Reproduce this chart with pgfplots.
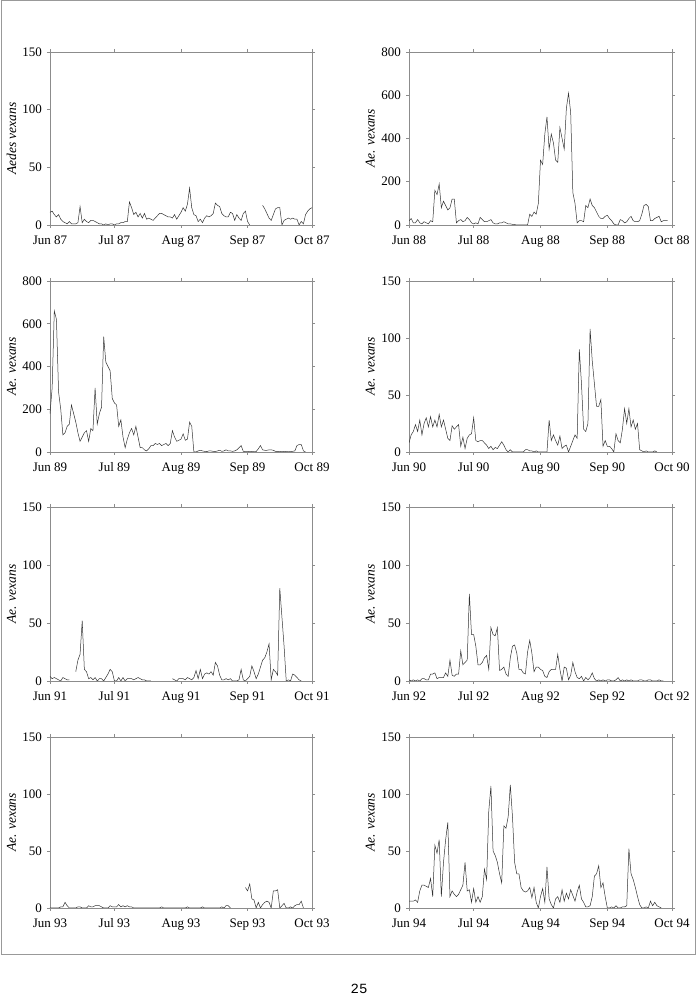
\documentclass[border=0pt]{standalone}
\usepackage{fontspec}
\setmainfont{Liberation Serif}
\newfontfamily\monofont{Liberation Mono}
\usepackage{pgfplots}
\pgfplotsset{compat=1.18}
\pgfplotsset{
  panel/.style={
    scale only axis,
    xmin=0, xmax=122, ymin=0,
    xtick={0,30,61,92,122},
    tick align=outside,
    major tick length=3pt,
    axis line style={draw=black!45, line width=0.8pt},
    every tick/.style={draw=black!45, line width=0.6pt},
    tick label style={font=\fontsize{13}{15}\selectfont, text=black},
    xticklabel style={yshift=-4pt},
    yticklabel style={xshift=-1.5pt},
    /pgf/number format/assume math mode=true,
    ylabel style={at={(axis description cs:-0.147,0.5)}, anchor=center, font=\fontsize{13.5}{15}\selectfont\itshape},
    unbounded coords=jump,
  },
  dat/.style={black!80, line width=0.5pt, mark=none},
}
\begin{document}
\begin{tikzpicture}
\useasboundingbox (0pt,0pt) rectangle (696pt,995pt);
\draw[black!40, line width=1pt] (1pt,994pt) rectangle (695pt,40pt);
\node[anchor=base, font=\monofont\fontsize{14}{16}\selectfont] at (359pt,1.5pt) {25};

% ---------- 1987 ----------
\begin{axis}[panel, at={(50pt,770pt)}, anchor=south west, width=262pt, height=173pt,
  ymax=150, ytick={0,50,100,150}, ylabel={Aedes vexans},
  xticklabels={Jun 87,Jul 87,Aug 87,Sep 87,Oct 87}]
\addplot[dat] coordinates {
(0,11) (1,12) (2,9) (3,7) (4,9) (5,5) (6,3) (7,2) (8,1) (9,3) (10,1) (11,1) (12,1) (13,2) (14,16) (15,2) (16,5) (17,3) (18,2) (19,4) (20,4) (21,3) (22,2) (23,1) (24,1) (25,0) (26,1) (27,0) (28,1) (29,1) (30,0) (31,1) (32,1) (33,2) (34,2) (35,3) (36,3) (37,20) (38,15) (39,9) (40,11) (41,7) (42,10) (43,6) (44,10) (45,5) (46,6) (47,5) (48,4) (49,6) (50,8) (51,10) (52,10) (53,9) (54,8) (55,7) (56,7) (57,6) (58,9) (59,5) (60,8) (61,11) (62,15) (63,12) (64,18) (65,32) (66,15) (67,9) (68,8) (69,3) (70,5) (71,2) (72,6) (73,8) (74,7) (75,8) (76,10) (77,19) (78,17) (79,16) (80,10) (81,8) (82,7) (83,7) (84,11) (85,10) (86,4) (87,9) (88,6) (89,4) (90,10) (91,12) (92,3) (93,0) (95,nan) (99,17) (100,14) (101,10) (102,6) (103,4) (104,9) (105,14) (106,15) (107,15) (108,0) (109,4) (110,5) (111,6) (112,5) (113,6) (114,5) (115,5) (116,0) (117,3) (118,1) (119,9) (120,12) (121,14) (122,15)
};
\end{axis}

% ---------- 1988 ----------
\begin{axis}[panel, at={(409pt,770pt)}, anchor=south west, width=263pt, height=173pt,
  ymax=800, ytick={0,200,400,600,800}, ylabel={Ae. vexans},
  xticklabels={Jun 88,Jul 88,Aug 88,Sep 88,Oct 88}]
\addplot[dat] coordinates {
(0,20) (1,30) (2,10) (3,10) (4,25) (5,10) (6,5) (7,15) (8,10) (9,5) (10,20) (11,15) (12,160) (13,140) (14,190) (15,80) (16,110) (17,90) (18,70) (19,80) (20,120) (21,120) (22,10) (23,20) (24,25) (25,15) (26,20) (27,35) (28,25) (29,10) (30,5) (31,10) (32,5) (33,35) (34,25) (35,15) (36,15) (37,20) (38,25) (39,10) (40,5) (41,5) (42,10) (43,10) (44,15) (45,10) (46,5) (47,5) (48,3) (49,2) (50,0) (51,0) (52,0) (53,0) (54,0) (55,0) (56,50) (57,40) (58,60) (59,50) (60,100) (61,300) (62,280) (63,420) (64,500) (65,350) (66,420) (67,380) (68,300) (69,290) (70,450) (71,400) (72,350) (73,540) (74,610) (75,520) (76,150) (77,100) (78,10) (79,20) (80,20) (81,15) (82,90) (83,80) (84,120) (85,90) (86,80) (87,60) (88,40) (89,30) (90,30) (91,40) (92,45) (93,30) (94,20) (95,5) (96,0) (97,0) (98,25) (99,20) (100,10) (101,15) (102,30) (103,40) (104,20) (105,15) (106,15) (107,20) (108,50) (109,90) (110,95) (111,85) (112,20) (113,20) (114,30) (115,35) (116,40) (117,15) (118,20) (119,20) (120,20)
};
\end{axis}

% ---------- 1989 ----------
\begin{axis}[panel, at={(50pt,543pt)}, anchor=south west, width=262pt, height=171pt,
  ymax=800, ytick={0,200,400,600,800}, ylabel={Ae. vexans},
  xticklabels={Jun 89,Jul 89,Aug 89,Sep 89,Oct 89}]
\addplot[dat] coordinates {
(0,180) (1,300) (2,660) (3,620) (4,280) (5,200) (6,80) (7,90) (8,120) (9,130) (10,220) (11,180) (12,140) (13,90) (14,50) (15,70) (16,90) (17,100) (18,50) (19,110) (20,100) (21,300) (22,130) (23,180) (24,210) (25,540) (26,420) (27,400) (28,380) (29,250) (30,230) (31,220) (32,120) (33,150) (34,70) (35,20) (36,60) (37,90) (38,110) (39,80) (40,120) (41,70) (42,20) (43,20) (44,10) (45,5) (46,15) (47,30) (48,30) (49,40) (50,35) (51,40) (52,30) (53,35) (54,40) (55,30) (56,40) (57,100) (58,70) (59,50) (60,55) (61,60) (62,85) (63,55) (64,60) (65,140) (66,120) (67,0) (68,0) (69,5) (70,8) (71,5) (72,3) (73,2) (74,5) (75,5) (76,3) (77,2) (78,5) (79,8) (80,3) (81,5) (82,10) (83,5) (84,5) (85,3) (86,5) (87,10) (88,20) (89,30) (90,3) (91,2) (92,2) (93,3) (94,2) (95,1) (96,2) (97,15) (98,30) (99,10) (100,8) (101,8) (102,10) (103,10) (104,8) (105,3) (106,2) (107,3) (108,1) (109,3) (110,2) (111,1) (112,2) (113,3) (114,5) (115,30) (116,35) (117,35) (118,5) (119,0)
};
\end{axis}

% ---------- 1990 ----------
\begin{axis}[panel, at={(409pt,543pt)}, anchor=south west, width=263pt, height=171pt,
  ymax=150, ytick={0,50,100,150}, ylabel={Ae. vexans},
  xticklabels={Jun 90,Jul 90,Aug 90,Sep 90,Oct 90}]
\addplot[dat] coordinates {
(0,8) (1,15) (2,18) (3,24) (4,18) (5,28) (6,15) (7,25) (8,30) (9,22) (10,31) (11,22) (12,28) (13,22) (14,33) (15,22) (16,28) (17,20) (18,12) (19,10) (20,23) (21,20) (22,22) (23,24) (24,5) (25,13) (26,3) (27,12) (28,15) (29,16) (30,30) (31,10) (32,9) (33,10) (34,10) (35,8) (36,6) (37,3) (38,5) (39,2) (40,4) (41,3) (42,6) (43,9) (44,6) (45,2) (46,0) (47,2) (48,0) (49,0) (50,0) (51,0) (52,0) (53,0) (54,2) (55,2) (56,1) (57,1) (58,0) (59,1) (60,0) (61,0) (62,0) (63,0) (64,0) (65,28) (66,10) (67,15) (68,10) (69,6) (70,14) (71,3) (72,5) (73,6) (74,0) (75,5) (76,10) (77,15) (78,12) (79,90) (80,60) (81,20) (82,18) (83,25) (84,108) (85,80) (86,60) (87,40) (88,40) (89,46) (90,5) (91,10) (92,5) (93,5) (94,3) (95,0) (96,16) (97,10) (98,8) (99,20) (100,38) (101,25) (102,38) (103,22) (104,28) (105,20) (106,25) (107,2) (108,1) (109,0) (110,1) (111,0) (112,0) (113,0) (114,1) (115,0)
};
\end{axis}

% ---------- 1991 ----------
\begin{axis}[panel, at={(50pt,314pt)}, anchor=south west, width=262pt, height=174pt,
  ymax=150, ytick={0,50,100,150}, ylabel={Ae. vexans},
  xticklabels={Jun 91,Jul 91,Aug 91,Sep 91,Oct 91}]
\addplot[dat] coordinates {
(0,4) (1,2) (2,3) (3,2) (4,1) (5,0) (6,3) (7,2) (8,1) (9,1) (10,nan) (12,8) (13,18) (14,23) (15,52) (16,10) (17,8) (18,2) (19,3) (20,1) (21,3) (22,0) (23,2) (24,2) (25,0) (26,3) (27,6) (28,10) (29,8) (30,0) (31,0) (32,3) (33,0) (34,3) (35,0) (36,2) (37,2) (38,2) (39,1) (40,2) (41,3) (42,2) (43,1) (44,1) (45,0) (46,0) (47,0) (48,nan) (57,2) (58,1) (59,0) (60,2) (61,2) (62,2) (63,1) (64,3) (65,2) (66,1) (67,3) (68,9) (69,2) (70,10) (71,2) (72,6) (73,7) (74,6) (75,8) (76,5) (77,16) (78,13) (79,5) (80,1) (81,1) (82,2) (83,1) (84,2) (85,0) (86,0) (87,0) (88,1) (89,10) (90,1) (91,0) (92,2) (93,4) (94,13) (95,8) (96,2) (97,6) (98,12) (99,18) (100,20) (101,25) (102,32) (103,1) (104,10) (105,8) (106,5) (107,80) (108,55) (109,30) (110,0) (111,1) (112,0) (113,6) (114,5) (115,3) (116,1) (117,0)
};
\end{axis}

% ---------- 1992 ----------
\begin{axis}[panel, at={(409pt,314pt)}, anchor=south west, width=263pt, height=174pt,
  ymax=150, ytick={0,50,100,150}, ylabel={Ae. vexans},
  xticklabels={Jun 92,Jul 92,Aug 92,Sep 92,Oct 92}]
\addplot[dat] coordinates {
(0,1) (1,0) (2,1) (3,0) (4,1) (5,0) (6,2) (7,2) (8,1) (9,1) (10,6) (11,6) (12,7) (13,2) (14,3) (15,3) (16,3) (17,7) (18,4) (19,18) (20,5) (21,4) (22,6) (23,6) (24,26) (25,14) (26,16) (27,18) (28,75) (29,40) (30,40) (31,30) (32,14) (33,14) (34,16) (35,20) (36,22) (37,10) (38,46) (39,40) (40,39) (41,46) (42,9) (43,10) (44,12) (45,6) (46,4) (47,20) (48,30) (49,31) (50,24) (51,10) (52,10) (53,7) (54,6) (55,25) (56,35) (57,24) (58,8) (59,12) (60,12) (61,10) (62,9) (63,4) (64,3) (65,8) (66,10) (67,10) (68,10) (69,23) (70,10) (71,0) (72,12) (73,11) (74,1) (75,5) (76,16) (77,8) (78,3) (79,2) (80,4) (81,0) (82,3) (83,1) (84,3) (85,7) (86,2) (87,0) (88,1) (89,0) (90,1) (91,0) (92,1) (93,1) (94,0) (95,0) (96,1) (97,3) (98,0) (99,1) (100,0) (101,1) (102,0) (103,1) (104,0) (105,0) (106,0) (107,1) (108,1) (109,0) (110,0) (111,1) (112,1) (113,0) (114,0) (115,0) (116,1) (117,0) (118,0)
};
\end{axis}

% ---------- 1993 ----------
\begin{axis}[panel, at={(50pt,87pt)}, anchor=south west, width=262pt, height=171pt,
  ymax=150, ytick={0,50,100,150}, ylabel={Ae. vexans},
  xticklabels={Jun 93,Jul 93,Aug 93,Sep 93,Oct 93}]
\addplot[dat] coordinates {
(0,0) (4,0) (5,1) (6,1) (7,5) (8,2) (9,0) (12,0) (13,1) (14,1) (15,0) (17,0) (18,2) (19,1) (20,1) (21,2) (22,2) (23,2) (24,1) (25,0) (27,0) (28,2) (29,1) (30,1) (31,1) (32,3) (33,1) (34,2) (35,1) (36,2) (37,1) (38,1) (39,0) (51,0) (52,1) (53,0) (63,0) (64,1) (65,0) (70,0) (71,1) (72,0) (79,0) (80,1) (81,0) (82,2) (83,2) (84,0) (86,nan) (91,18) (92,15) (93,21) (94,8) (95,7) (96,0) (97,5) (98,0) (99,3) (100,5) (101,6) (102,5) (103,0) (104,15) (105,15) (106,16) (107,0) (108,2) (109,4) (110,0) (111,0) (112,1) (113,0) (114,2) (115,3) (116,3) (117,6) (118,0)
};
\end{axis}

% ---------- 1994 ----------
\begin{axis}[panel, at={(409pt,87pt)}, anchor=south west, width=263pt, height=171pt,
  ymax=150, ytick={0,50,100,150}, ylabel={Ae. vexans},
  xticklabels={Jun 94,Jul 94,Aug 94,Sep 94,Oct 94}]
\addplot[dat] coordinates {
(0,6) (1,6) (2,6) (3,7) (4,5) (5,15) (6,20) (7,20) (8,19) (9,18) (10,26) (11,10) (12,55) (13,48) (14,60) (15,10) (16,40) (17,60) (18,75) (19,10) (20,15) (21,12) (22,10) (23,12) (24,16) (25,20) (26,40) (27,15) (28,16) (29,5) (30,17) (31,5) (32,10) (33,5) (34,10) (35,34) (36,25) (37,85) (38,107) (39,50) (40,46) (41,40) (42,30) (43,22) (44,72) (45,70) (46,80) (47,108) (48,80) (49,40) (50,30) (51,30) (52,18) (53,15) (54,14) (55,15) (56,18) (57,9) (58,18) (59,5) (60,0) (61,10) (62,17) (63,5) (64,36) (65,8) (66,3) (67,0) (68,8) (69,10) (70,5) (71,16) (72,6) (73,13) (74,8) (75,16) (76,11) (77,6) (78,14) (79,20) (80,8) (81,5) (82,1) (83,1) (84,2) (85,10) (86,28) (87,30) (88,37) (89,18) (90,22) (91,10) (92,0) (93,0) (94,1) (95,0) (96,2) (97,0) (98,0) (99,1) (100,1) (101,2) (102,52) (103,30) (104,25) (105,18) (106,10) (107,3) (108,0) (109,0) (110,1) (111,0) (112,6) (113,2) (114,5) (115,2) (116,1) (117,0)
};
\end{axis}
\end{tikzpicture}
\end{document}
